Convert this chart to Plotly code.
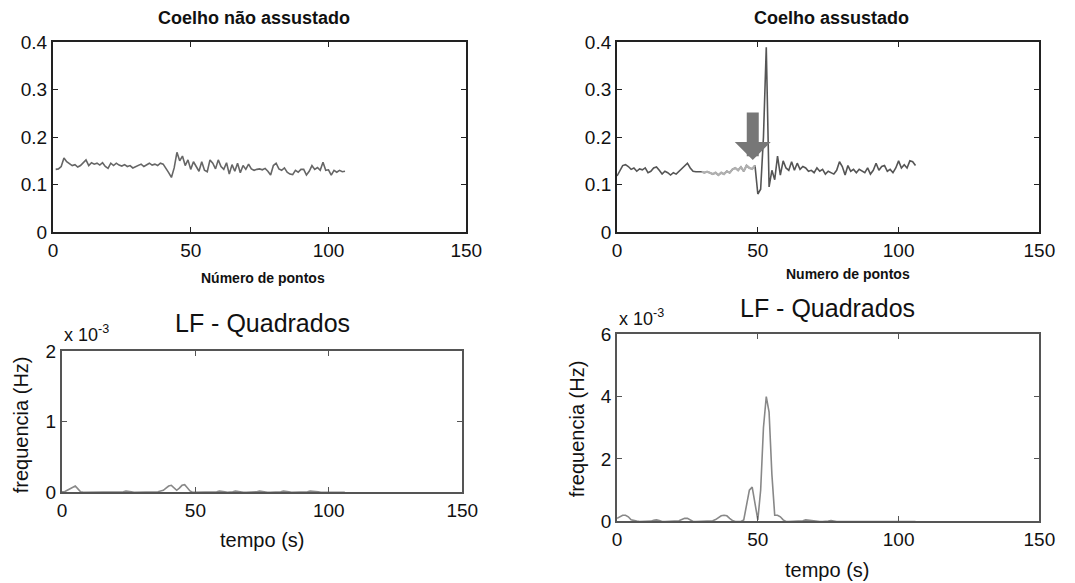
import plotly.graph_objects as go

W, H = 1075, 583

# ---------------- data ----------------
x_nao = list(range(1, 107))
y_nao = [0.132, 0.133, 0.138, 0.156, 0.148, 0.143, 0.140, 0.142, 0.137, 0.140,
         0.145, 0.152, 0.140, 0.146, 0.143, 0.145, 0.141, 0.146, 0.138, 0.134,
         0.145, 0.140, 0.145, 0.141, 0.139, 0.142, 0.138, 0.140, 0.135, 0.138,
         0.141, 0.143, 0.138, 0.142, 0.145, 0.141, 0.143, 0.140, 0.145, 0.143,
         0.135, 0.125, 0.115, 0.135, 0.168, 0.150, 0.160, 0.140, 0.152, 0.132,
         0.148, 0.138, 0.128, 0.148, 0.130, 0.127, 0.152, 0.145, 0.133, 0.152,
         0.138, 0.132, 0.146, 0.122, 0.142, 0.128, 0.145, 0.125, 0.140, 0.132,
         0.143, 0.133, 0.130, 0.132, 0.133, 0.131, 0.134, 0.128, 0.120, 0.140,
         0.145, 0.133, 0.130, 0.135, 0.126, 0.122, 0.121, 0.130, 0.126, 0.132,
         0.132, 0.120, 0.128, 0.140, 0.132, 0.136, 0.130, 0.147, 0.130, 0.131,
         0.120, 0.130, 0.126, 0.130, 0.127, 0.128]

x_ass = list(range(0, 107))
y_ass = [0.118, 0.130, 0.140, 0.142, 0.138, 0.132, 0.135, 0.128, 0.133, 0.131,
         0.135, 0.125, 0.128, 0.135, 0.137, 0.130, 0.122, 0.128, 0.125, 0.120,
         0.125, 0.122, 0.128, 0.132, 0.138, 0.145, 0.135, 0.128, 0.127, 0.127,
         0.127, 0.125, 0.127, 0.125, 0.122, 0.125, 0.120, 0.125, 0.122, 0.128,
         0.125, 0.132, 0.135, 0.130, 0.137, 0.128, 0.140, 0.135, 0.133, 0.140,
         0.080, 0.090, 0.200, 0.390, 0.095, 0.130, 0.110, 0.160, 0.120, 0.150,
         0.135, 0.130, 0.148, 0.130, 0.145, 0.132, 0.138, 0.135, 0.128, 0.130,
         0.125, 0.135, 0.128, 0.132, 0.122, 0.128, 0.125, 0.122, 0.130, 0.148,
         0.138, 0.120, 0.140, 0.128, 0.132, 0.125, 0.132, 0.128, 0.125, 0.135,
         0.122, 0.130, 0.145, 0.130, 0.138, 0.140, 0.128, 0.132, 0.125, 0.135,
         0.150, 0.135, 0.142, 0.135, 0.150, 0.148, 0.140]

x_lf_nao = list(range(0, 107))
y_lf_nao = [0.00001, 0.00001, 0.00003, 0.00005, 0.00008, 0.00009, 0.00005, 0.00001, 0.0, 0.0,
            0.0, 0.0, 0.0, 0.0, 0.0, 0.0, 0.0, 0.0, 0.0, 0.0,
            0.0, 0.0, 0.0, 0.00001, 0.00002, 0.00002, 0.00001, 0.0, 0.0, 0.0,
            0.0, 0.0, 0.0, 0.0, 0.0, 0.0, 0.00001, 0.00002, 0.00003, 0.00006,
            0.00009, 0.0001, 0.00007, 0.00003, 0.00006, 0.0001, 0.00011, 0.00007, 0.00002, 0.0,
            0.0, 0.0, 0.0, 0.0, 0.0, 0.0, 0.0, 0.0, 0.00001, 0.00002,
            0.00002, 0.00001, 0.0, 0.0, 0.00001, 0.00002, 0.00001, 0.0, 0.0, 0.0,
            0.0, 0.0, 0.0, 0.00001, 0.00002, 0.00001, 0.0, 0.0, 0.0, 0.0,
            0.0, 0.0, 0.00001, 0.00002, 0.00002, 0.00001, 0.0, 0.0, 0.0, 0.0,
            0.0, 0.0, 0.00001, 0.00002, 0.00002, 0.00001, 0.00001, 0.0, 0.0, 0.0,
            0.0, 0.0, 0.0, 0.0, 0.0, 0.0, 0.0]

x_lf_ass = list(range(0, 107))
y_lf_ass = [0.0001, 0.00015, 0.0002, 0.0002, 0.00015, 0.00005, 0.00002, 0.00001, 0.0, 0.0,
            0.0, 0.0, 0.00001, 0.00004, 0.00005, 0.00003, 0.0, 0.0, 0.0, 0.0,
            0.0, 0.0, 0.00002, 0.00006, 0.0001, 0.0001, 0.00005, 0.0, 0.0, 0.0,
            0.0, 0.0, 0.0, 0.0, 0.00002, 0.00006, 0.00012, 0.00018, 0.0002, 0.00018,
            0.0001, 0.00003, 0.0, 0.0, 0.0, 0.00005, 0.0005, 0.001, 0.0011, 0.0006,
            0.00005, 0.001, 0.003, 0.004, 0.0035, 0.0015, 0.0002, 0.0002, 0.00015, 0.00005,
            0.0, 0.0, 0.0, 0.0, 0.0, 0.0, 0.00002, 0.00005, 0.00004, 0.00001,
            0.0, 0.0, 0.0, 0.0, 0.0, 0.00001, 0.00003, 0.00001, 0.0, 0.0,
            0.0, 0.0, 0.0, 0.0, 0.0, 0.0, 0.0, 0.0, 0.0, 0.0,
            0.0, 0.0, 0.0, 0.0, 0.0, 0.0, 0.0, 0.0, 0.0, 0.0,
            0.0, 0.0, 0.0, 0.0, 0.0, 0.0, 0.0]

x_ticks = [0, 50, 100, 150]
top_y_ticks = [0, 0.1, 0.2, 0.3, 0.4]
top_y_labels = ["0", "0.1", "0.2", "0.3", "0.4"]
bl_y_ticks = [0, 0.001, 0.002]
bl_y_labels = ["0", "1", "2"]
br_y_ticks = [0, 0.002, 0.004, 0.006]
br_y_labels = ["0", "2", "4", "6"]

# ---------------- layout helpers ----------------
# pixel targets -> paper fractions (with a small calibration for the capture)
SX, OX = 0.982, 4.0
SY, OY = 0.962, 10.6

def px(x):
    return ((x - OX) / SX) / W

def py(y):
    return 1 - ((y - OY) / SY) / H

FONT = "Liberation Sans, Arial, sans-serif"

fig = go.Figure()

fig.add_trace(go.Scatter(x=x_nao, y=y_nao, mode="lines",
                         line=dict(color="#666666", width=1.6),
                         xaxis="x", yaxis="y", showlegend=False))
fig.add_trace(go.Scatter(x=x_ass, y=y_ass, mode="lines",
                         line=dict(color="#555555", width=1.6),
                         xaxis="x2", yaxis="y2", showlegend=False))
fig.add_trace(go.Scatter(x=x_ass[30:50], y=y_ass[30:50], mode="lines",
                         line=dict(color="#b0b0b0", width=2.2),
                         xaxis="x2", yaxis="y2", showlegend=False))
fig.add_trace(go.Scatter(x=x_lf_nao, y=y_lf_nao, mode="lines",
                         line=dict(color="#888888", width=1.6),
                         xaxis="x3", yaxis="y3", showlegend=False))
fig.add_trace(go.Scatter(x=x_lf_ass, y=y_lf_ass, mode="lines",
                         line=dict(color="#888888", width=1.6),
                         xaxis="x4", yaxis="y4", showlegend=False))

def xax(dom, anchor, color, fs):
    return dict(domain=dom, anchor=anchor, range=[0, 150], tickvals=x_ticks,
                ticks="inside", ticklen=5, tickcolor=color, showline=True,
                linecolor=color, linewidth=2, mirror="ticks", showgrid=False,
                zeroline=False, tickfont=dict(family=FONT, size=fs, color="#111"))

def yax(dom, anchor, rng, tv, tt, color, fs):
    return dict(domain=dom, anchor=anchor, range=rng, tickvals=tv, ticktext=tt,
                ticks="inside", ticklen=5, tickcolor=color, showline=True,
                linecolor=color, linewidth=2, mirror="ticks", showgrid=False,
                zeroline=False, tickfont=dict(family=FONT, size=fs, color="#111"))

fig.update_layout(
    width=W, height=H,
    margin=dict(l=0, r=0, t=0, b=0),
    paper_bgcolor="white", plot_bgcolor="white",
    xaxis=xax([px(52), px(466)], "y", "#222", 19),
    yaxis=yax([py(232), py(43)], "x", [0, 0.4], top_y_ticks, top_y_labels, "#222", 19),
    xaxis2=xax([px(617), px(1040)], "y2", "#222", 19),
    yaxis2=yax([py(232), py(43)], "x2", [0, 0.4], top_y_ticks, top_y_labels, "#222", 19),
    xaxis3=xax([px(61), px(462)], "y3", "#555", 19),
    yaxis3=yax([py(492), py(351)], "x3", [0, 0.002], bl_y_ticks, bl_y_labels, "#555", 19),
    xaxis4=xax([px(617), px(1040)], "y4", "#555", 19),
    yaxis4=yax([py(521), py(334)], "x4", [0, 0.006], br_y_ticks, br_y_labels, "#555", 19),
)

def text(x, y, s, size, bold=False, angle=0, xanchor="center"):
    fig.add_annotation(x=px(x), y=py(y), xref="paper", yref="paper", text=s,
                       showarrow=False, textangle=angle,
                       xanchor=xanchor, yanchor="middle",
                       font=dict(family=FONT, size=size, color="#111",
                                 weight="bold" if bold else "normal"))

text(253, 19, "Coelho não assustado", 18, bold=True)
text(832, 19, "Coelho assustado", 18, bold=True)
text(262, 278, "Número de pontos", 14, bold=True)
text(848, 274, "Numero de pontos", 14, bold=True)
text(262, 323, "LF - Quadrados", 25)
text(828, 308, "LF - Quadrados", 25)
text(61, 333, "x 10<sup>-3</sup>", 18, xanchor="left")
text(617, 317, "x 10<sup>-3</sup>", 18, xanchor="left")
text(261, 540, "tempo (s)", 20)
text(827, 569, "tempo (s)", 20)
text(20, 424, "frequencia (Hz)", 20, angle=-90)
text(577, 429, "frequencia (Hz)", 20, angle=-90)

# arrow marking the scare moment
fig.add_annotation(x=48.2, y=0.152, ax=48.2, ay=0.255, xref="x2", yref="y2",
                   axref="x2", ayref="y2", showarrow=True, arrowhead=1,
                   arrowsize=0.5, arrowwidth=12, arrowcolor="#777777", text="")

fig.write_html("out.html")
